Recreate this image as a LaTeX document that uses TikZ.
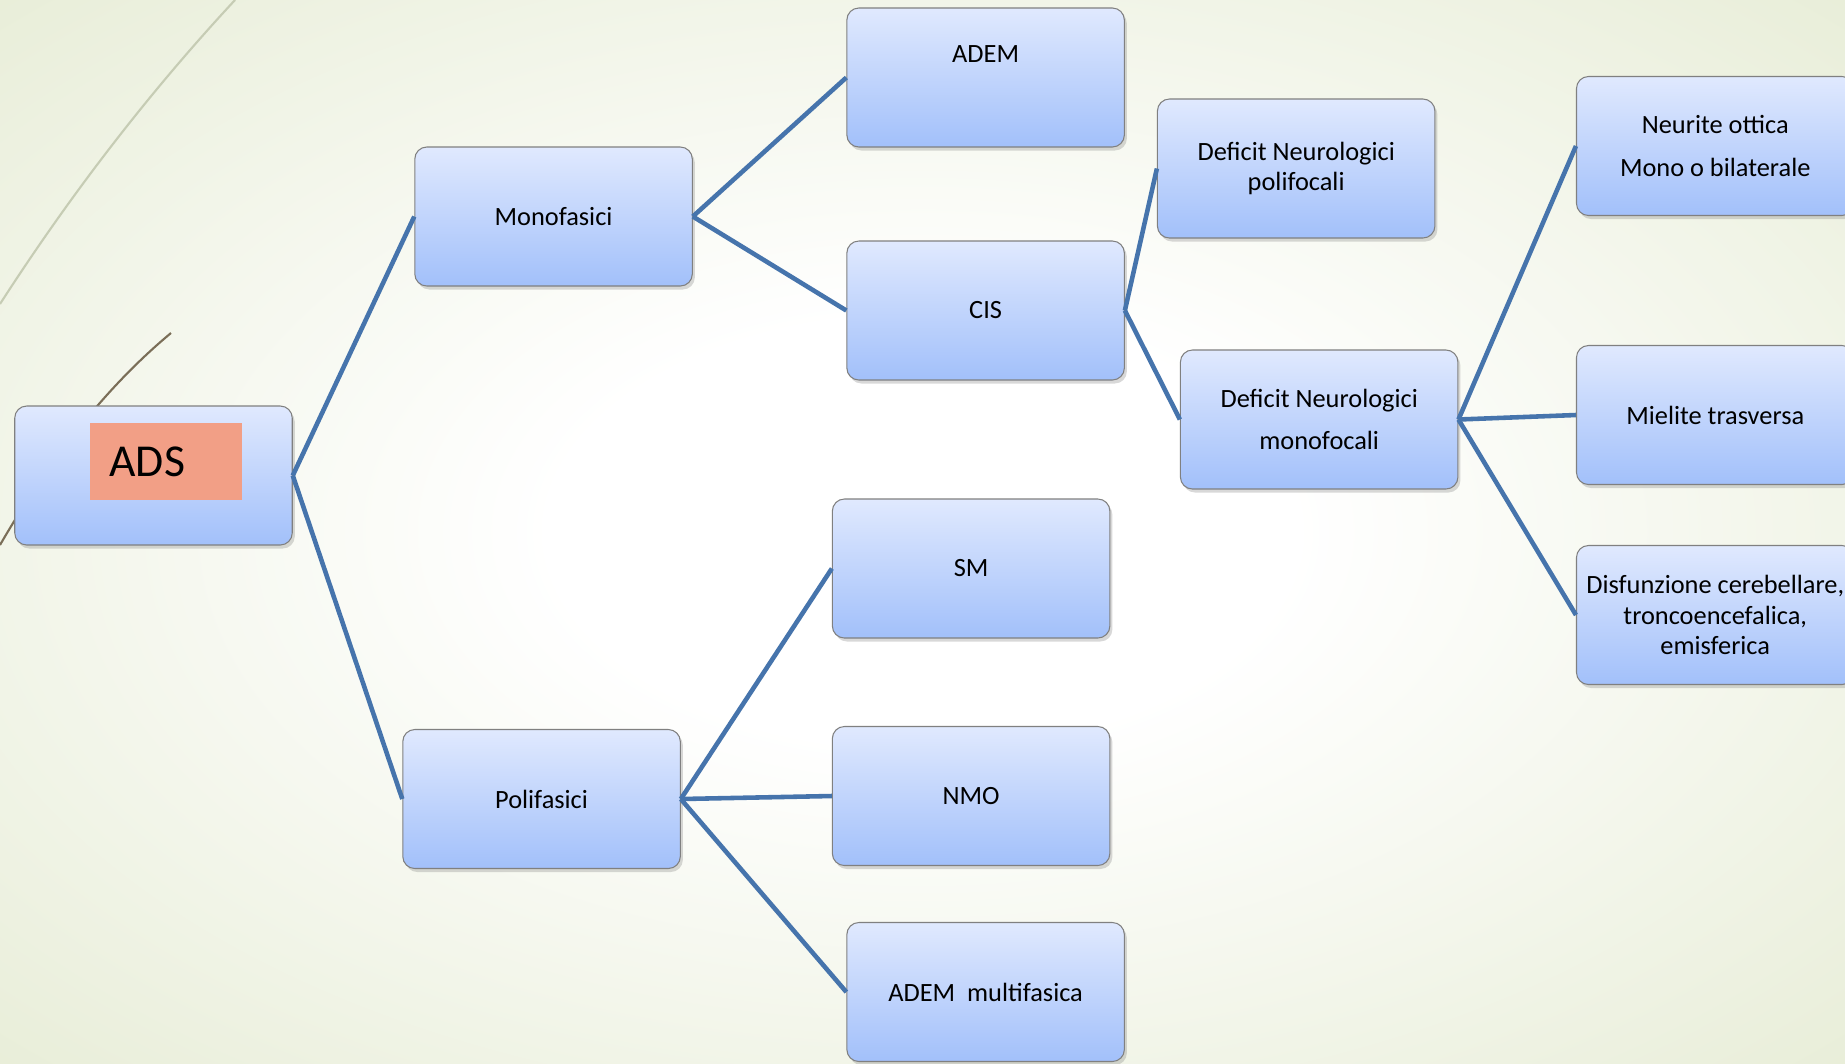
\documentclass[tikz,border=0pt]{standalone}
\usepackage{fontspec}
\setmainfont{Carlito}
\usepackage{tikz}
\usetikzlibrary{positioning}
\usetikzlibrary{shadows}
\definecolor{bgreen}{HTML}{E1E8CC}
\definecolor{boxtop}{HTML}{E0E9FE}
\definecolor{boxbottom}{HTML}{A2C0FA}
\definecolor{linkblue}{HTML}{4674AC}
\definecolor{salmon}{HTML}{F29F86}
\definecolor{twig}{HTML}{7A6E58}
\pgfdeclareradialshading{glow}{\pgfpoint{0bp}{0bp}}{color(0bp)=(white); color(10bp)=(white); color(44bp)=(bgreen); color(72bp)=(bgreen)}

\begin{document}
\begin{tikzpicture}[
    box/.style={draw=black!50, line width=0.6pt, rounded corners=0.24cm,
        top color=boxtop, bottom color=boxbottom,
        minimum width=5.55cm, minimum height=2.78cm, inner xsep=2pt,
        align=center, font=\fontsize{15}{17.5}\selectfont,
        drop shadow={shadow xshift=0.05cm, shadow yshift=-0.07cm, opacity=0.3}},
    link/.style={draw=linkblue, line width=2.6pt}]
    \useasboundingbox (0,0) rectangle (36.9,-21.26);
    \shade[shading=glow] (0,0) rectangle (36.9,-21.26);
    \draw[black!12!bgreen, line width=1.2pt] (4.7,0) .. controls (3.0,-1.83) and (1.43,-3.86) .. (0,-6.08);
    \draw[twig, line width=1.2pt] (3.42,-6.66) .. controls (2.18,-7.69) and (1.04,-9.1) .. (0,-10.9);

    \node(ADS)[box] at (3.07,-9.51) {};
    \node(ADStag)[fill=salmon, minimum width=3.04cm, minimum height=1.55cm,
        text width=2.24cm, inner xsep=0.4cm, align=left,
        font=\fontsize{26}{30}\selectfont] at ([shift={(0.24,0.28)}]ADS.center) {ADS};
    \node(Mono)[box, right=2.43cm of ADS, yshift=5.18cm] {Monofasici};
    \node(Poli)[box, right=2.19cm of ADS, yshift=-6.47cm] {Polifasici};
    \node(ADEM)[box, right=3.07cm of Mono, yshift=2.78cm, text depth=0.95cm] {ADEM};
    \node(CIS)[box, right=3.07cm of Mono, yshift=-1.88cm] {CIS};
    \node(SM)[box, right=3.02cm of Poli, yshift=4.61cm] {SM};
    \node(NMO)[box, right=3.02cm of Poli, yshift=0.06cm] {NMO};
    \node(ADEMm)[box, right=3.31cm of Poli, yshift=-3.86cm] {ADEM~ multifasica};
    \node(DNp)[box, right=0.64cm of CIS, yshift=2.84cm] {Deficit Neurologici\\polifocali};
    \node(DNm)[box, right=1.10cm of CIS, yshift=-2.18cm] {Deficit Neurologici\\[6.5pt]monofocali};
    \node(NO)[box, right=2.35cm of DNm, yshift=5.47cm] {Neurite ottica\\[6.5pt]Mono o bilaterale};
    \node(MT)[box, right=2.35cm of DNm, yshift=0.09cm] {Mielite trasversa};
    \node(DC)[box, right=2.35cm of DNm, yshift=-3.91cm] {Disfunzione cerebellare,\\troncoencefalica,\\emisferica};

    \draw[link](ADS.east) -- (Mono.west);
    \draw[link](ADS.east) -- (Poli.west);
    \draw[link](Mono.east) -- (ADEM.west);
    \draw[link](Mono.east) -- (CIS.west);
    \draw[link](CIS.east) -- (DNp.west);
    \draw[link](CIS.east) -- (DNm.west);
    \draw[link](DNm.east) -- (NO.west);
    \draw[link](DNm.east) -- (MT.west);
    \draw[link](DNm.east) -- (DC.west);
    \draw[link](Poli.east) -- (SM.west);
    \draw[link](Poli.east) -- (NMO.west);
    \draw[link](Poli.east) -- (ADEMm.west);
\end{tikzpicture}
\end{document}
